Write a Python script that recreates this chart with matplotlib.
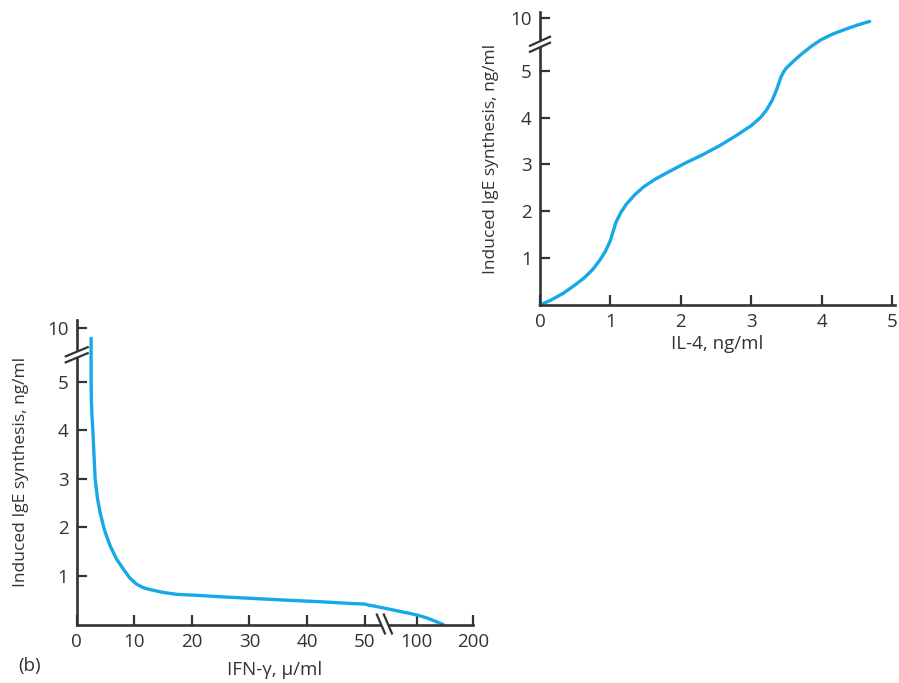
import numpy as np
import matplotlib
matplotlib.use("Agg")
import matplotlib.pyplot as plt
import matplotlib.transforms as mtransforms
from matplotlib.patches import Polygon

plt.rcParams['font.family'] = ['Open Sans', 'DejaVu Sans']

# IL-4 panel (top right)
il4_x = [0, 0.15, 0.33, 0.5, 0.62, 0.75, 0.85, 0.93, 1.0, 1.04, 1.08, 1.15, 1.23, 1.35,
         1.47, 1.63, 1.8, 2.05, 2.3, 2.55, 2.8, 3.0, 3.13, 3.22, 3.3, 3.36, 3.42, 3.46,
         3.5, 3.56, 3.63, 3.7, 3.85, 3.99, 4.15, 4.32, 4.5, 4.68]
il4_y = [0, 0.1, 0.25, 0.43, 0.57, 0.76, 0.96, 1.15, 1.38, 1.58, 1.77, 1.98, 2.16, 2.36,
         2.52, 2.68, 2.82, 3.02, 3.2, 3.4, 3.63, 3.83, 4.0, 4.17, 4.38, 4.6, 4.86, 4.98,
         5.28, 5.66, 6.09, 6.5, 7.3, 7.93, 8.45, 8.88, 9.3, 9.66]
il4_xticks = [0, 1, 2, 3, 4, 5]
il4_yticks = [1, 2, 3, 4, 5, 10]

# IFN-gamma panel (bottom left)
ifn_x = [2.5, 2.5, 2.5, 2.55, 2.65, 2.8, 3.0, 3.2, 3.6, 4.05, 4.8, 5.8, 6.9, 8.1, 9.2,
         10.4, 11.5, 12.7, 15, 17.4, 21, 25, 30, 36.5, 42, 48, 50, 53.5, 59, 65.8, 75,
         84.8, 92, 100, 110, 120, 134.7, 147.5]
ifn_y = [9.05, 7.0, 5.0, 4.6, 4.3, 4.0, 3.5, 3.0, 2.6, 2.31, 1.95, 1.62, 1.35, 1.14, 0.96,
         0.83, 0.76, 0.72, 0.66, 0.62, 0.6, 0.57, 0.54, 0.50, 0.47, 0.43, 0.42, 0.40,
         0.38, 0.35, 0.31, 0.265, 0.235, 0.197, 0.165, 0.128, 0.06, 0.0]
ifn_xticks = [0, 10, 20, 30, 40, 50, 100, 200]
ifn_yticks = [1, 2, 3, 4, 5, 10]

BLUE = '#17a8e6'
INK = '#333333'
FS = 13.5


def y_break(k):
    # linear up to 5, compressed above
    fwd = lambda v: np.where(np.asarray(v, float) <= 5, v, 5 + (np.asarray(v, float) - 5) * k)
    inv = lambda p: np.where(np.asarray(p, float) <= 5, p, 5 + (np.asarray(p, float) - 5) / k)
    return fwd, inv


def x_fwd(v):
    v = np.asarray(v, float)
    return np.where(v <= 50, v, np.where(v <= 100, 50 + (v - 50) * 0.18, 59 + (v - 100) * 0.0975))


def x_inv(p):
    p = np.asarray(p, float)
    return np.where(p <= 50, p, np.where(p <= 59, 50 + (p - 50) / 0.18, 100 + (p - 59) / 0.0975))


def style(ax):
    for s in ['top', 'right']:
        ax.spines[s].set_visible(False)
    for s in ['left', 'bottom']:
        ax.spines[s].set_linewidth(1.9)
        ax.spines[s].set_color(INK)
    ax.tick_params(direction='in', length=7.5, width=1.6, color=INK,
                   labelsize=FS, labelcolor=INK, pad=6)


def break_mark(ax, fig, x, y, trans, lines, gap):
    # two slanted strokes with a white gap cutting the spine
    anchor = fig.dpi_scale_trans + mtransforms.ScaledTranslation(x, y, trans)
    (a, b), (c, d) = lines
    gx, gy = gap
    poly = Polygon([(a - gx, b - gy), (c - gx, d - gy), (c + gx, d + gy), (a + gx, b + gy)],
                   closed=True, transform=anchor, facecolor='white', edgecolor='none',
                   zorder=4, clip_on=False)
    ax.add_patch(poly)
    for sgn in (-1, 1):
        ax.plot([a + sgn * gx, c + sgn * gx], [b + sgn * gy, d + sgn * gy], color=INK,
                lw=1.6, transform=anchor, clip_on=False, zorder=5, solid_capstyle='butt')


fig = plt.figure(figsize=(8.99, 6.83), dpi=100)

# top panel
ax1 = fig.add_axes([540 / 899, 1 - 305 / 683, 355 / 899, 292.5 / 683])
f1, i1 = y_break(0.226)
ax1.set_yscale('function', functions=(f1, i1))
ax1.plot(il4_x, il4_y, color=BLUE, lw=2.4, solid_capstyle='round', solid_joinstyle='round',
         clip_on=False)
ax1.set_xlim(0, 5.04)
ax1.set_ylim(0, 10.5)
ax1.set_xticks(il4_xticks)
ax1.set_yticks(il4_yticks)
ax1.set_yticklabels([str(t) for t in il4_yticks])
ax1.set_xlabel('IL-4, ng/ml', fontsize=FS, color=INK, labelpad=3)
ax1.set_ylabel('Induced IgE synthesis, ng/ml', fontsize=12.5, color=INK, labelpad=8)
style(ax1)
break_mark(ax1, fig, 0, 7.5, ax1.get_yaxis_transform(),
           ((-0.11, -0.05), (0.11, 0.05)), (0.0, 0.03))

# bottom panel
ax2 = fig.add_axes([76.7 / 899, 1 - 624.5 / 683, 396 / 899, 305 / 683])
f2, i2 = y_break(0.22)
ax2.set_yscale('function', functions=(f2, i2))
ax2.set_xscale('function', functions=(x_fwd, x_inv))
ax2.plot(ifn_x, ifn_y, color=BLUE, lw=2.4, solid_capstyle='round', solid_joinstyle='round',
         clip_on=False)
ax2.set_xlim(0, 200)
ax2.set_ylim(0, 10.8)
ax2.set_xticks(ifn_xticks)
ax2.set_xticklabels([str(t) for t in ifn_xticks])
ax2.set_yticks(ifn_yticks)
ax2.set_yticklabels([str(t) for t in ifn_yticks])
ax2.set_xlabel('IFN-\u03b3, \u03bc/ml', fontsize=FS, color=INK, labelpad=7)
ax2.set_ylabel('Induced IgE synthesis, ng/ml', fontsize=12.5, color=INK, labelpad=13)
style(ax2)
break_mark(ax2, fig, 0, 7.5, ax2.get_yaxis_transform(),
           ((-0.12, -0.05), (0.12, 0.05)), (0.0, 0.03))
break_mark(ax2, fig, 69, 0, ax2.get_xaxis_transform(),
           ((-0.045, 0.11), (0.045, -0.1)), (0.035, 0.0))

fig.text(30 / 899, 1 - 666 / 683, '(b)', fontsize=FS, color=INK, ha='center', va='center')

fig.savefig('out.png', dpi=100)
